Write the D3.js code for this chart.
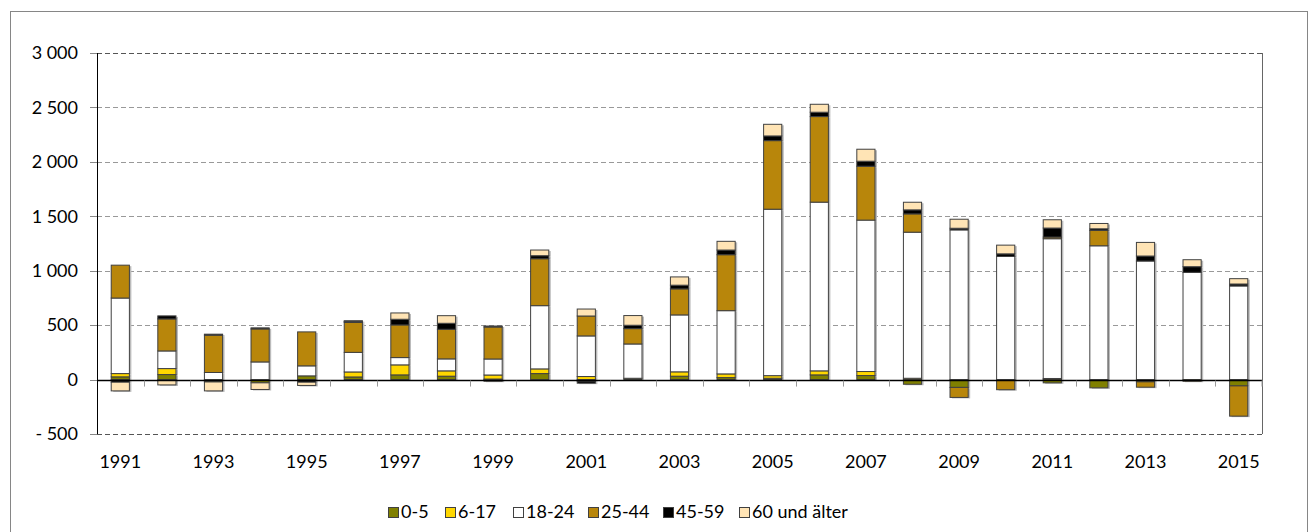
<!DOCTYPE html>
<meta charset="utf-8">
<style>
body { margin: 0; background: #fff; }
text { font-family: Lato, "Open Sans", sans-serif; fill: #000; }
</style>
<body>
<script src="https://cdn.jsdelivr.net/npm/d3@7"></script>
<script>

var width = 1311, height = 532;

// data
var years = d3.range(1991, 2016);
var groups = ["0-5", "6-17", "18-24", "25-44", "45-59", "60 und älter"];
var colors = ["#808000", "#ffd700", "#ffffff", "#b8860b", "#000000", "#ffe4b5"];

var age0_5   = [25, 46, -12, -30, 34, 24, 43, 31, 5, 55, -15, 12, 31, 18, 12, 43, 37, -43, -72, -5, -30, -76, -21, 0, -58];
var age6_17  = [30, 55, -10, 0, 0, 46, 92, 49, 37, 43, 28, 0, 40, 34, 24, 37, 37, 12, 0, 0, 10, 0, 0, 0, 0];
var age18_24 = [694, 162, 65, 162, 92, 180, 67, 110, 147, 581, 373, 315, 523, 581, 1529, 1550, 1391, 1342, 1375, 1131, 1284, 1229, 1089, 985, 860];
var age25_44 = [302, 294, 343, 303, 312, 275, 300, 272, 294, 431, 183, 141, 239, 514, 630, 786, 495, 168, -92, -88, 15, 141, -49, -15, -278];
var age45_59 = [-24, 28, 9, 10, -24, 8, 52, 55, 9, 28, -18, 31, 34, 43, 43, 40, 46, 37, 15, 24, 83, 15, 46, 52, 18];
var age60    = [-80, -49, -82, -61, -30, 8, 58, 70, -15, 52, 64, 89, 76, 80, 107, 73, 110, 70, 83, 80, 76, 49, 125, 64, 49];

var yTicks = [-500, 0, 500, 1000, 1500, 2000, 2500, 3000];

var series = [age0_5, age6_17, age18_24, age25_44, age45_59, age60];
var table = years.map(function(yr, i) {
  var row = {year: yr};
  groups.forEach(function(g, k) { row[g] = series[k][i]; });
  return row;
});

var stack = d3.stack().keys(groups).offset(d3.stackOffsetDiverging);
var layers = stack(table);

// plot area edges ("top" is taken by window.top)
var pLeft = 97, pRight = 1262, pTop = 53, pBottom = 434;

var x = d3.scaleBand().domain(years).range([pLeft, pRight]).paddingInner(0.61).paddingOuter(0.305);
var band = d3.scaleBand().domain(years).range([pLeft, pRight]);
var y = d3.scaleLinear().domain([-500, 3000]).range([pBottom, pTop]);

var svg = d3.select("body").append("svg")
    .attr("width", width)
    .attr("height", height);

// chart border
svg.append("rect")
    .attr("x", 10.5).attr("y", 11.5)
    .attr("width", 1297).attr("height", 540)
    .attr("fill", "none").attr("stroke", "#868686");

// gridlines
svg.append("g").selectAll("line")
    .data(yTicks.filter(function(d) { return d != 0; }))
  .enter().append("line")
    .attr("x1", pLeft).attr("x2", pRight)
    .attr("y1", function(d) { return Math.round(y(d)) + 0.5; })
    .attr("y2", function(d) { return Math.round(y(d)) + 0.5; })
    .attr("stroke", function(d) { return (d == 3000 || d == -500) ? "#555" : "#999"; })
    .attr("stroke-dasharray", "5,3");

// plot area right edge
svg.append("line")
    .attr("x1", pRight + 0.5).attr("x2", pRight + 0.5)
    .attr("y1", pTop).attr("y2", pBottom)
    .attr("stroke", "#666");

// bars with a faint shadow
var gBars = svg.append("g");
layers.forEach(function(layer, k) {
  gBars.selectAll(null)
    .data(layer.filter(function(d) { return d[1] != d[0]; }))
  .enter().append("rect")
    .attr("x", function(d) { return x(d.data.year) + 2; })
    .attr("y", function(d) { return y(d[1]) + 1; })
    .attr("width", x.bandwidth())
    .attr("height", function(d) { return y(d[0]) - y(d[1]); })
    .attr("fill", "#bbb");
});
layers.forEach(function(layer, k) {
  gBars.selectAll(null)
    .data(layer.filter(function(d) { return d[1] != d[0]; }))
  .enter().append("rect")
    .attr("x", function(d) { return x(d.data.year); })
    .attr("y", function(d) { return y(d[1]); })
    .attr("width", x.bandwidth())
    .attr("height", function(d) { return y(d[0]) - y(d[1]); })
    .attr("fill", colors[k])
    .attr("stroke", "#404040")
    .attr("stroke-width", 1);
});

// y axis
var fmt = function(d) {
  var s = d3.format(",")(Math.abs(d)).replace(/,/g, " ");
  return d < 0 ? "- " + s : s;
};
svg.append("line")
    .attr("x1", pLeft + 0.5).attr("x2", pLeft + 0.5)
    .attr("y1", pTop).attr("y2", pBottom)
    .attr("stroke", "#000");
svg.append("g").selectAll("line")
    .data(yTicks)
  .enter().append("line")
    .attr("x1", pLeft - 7).attr("x2", pLeft)
    .attr("y1", function(d) { return Math.round(y(d)) + 0.5; })
    .attr("y2", function(d) { return Math.round(y(d)) + 0.5; })
    .attr("stroke", "#888");
svg.append("g").selectAll("text")
    .data(yTicks)
  .enter().append("text")
    .attr("x", 78)
    .attr("y", function(d) { return y(d); })
    .attr("dy", "0.35em")
    .attr("text-anchor", "end")
    .style("font-size", "18px")
    .text(fmt);

// x axis at zero
svg.append("line")
    .attr("x1", pLeft).attr("x2", pRight)
    .attr("y1", Math.round(y(0)) + 0.5).attr("y2", Math.round(y(0)) + 0.5)
    .attr("stroke", "#000").attr("stroke-width", 1.5);
svg.append("g").selectAll("line")
    .data(years.slice(1).concat([null]))
  .enter().append("line")
    .attr("x1", function(d) { return d == null ? pRight : Math.round(band(d)) + 0.5; })
    .attr("x2", function(d) { return d == null ? pRight : Math.round(band(d)) + 0.5; })
    .attr("y1", y(0) + 1).attr("y2", y(0) + 7)
    .attr("stroke", "#999");
svg.append("g").selectAll("text")
    .data(years.filter(function(d) { return (d - 1991) % 2 == 0; }))
  .enter().append("text")
    .attr("x", function(d) { return band(d) + band.bandwidth() / 2; })
    .attr("y", 468)
    .attr("text-anchor", "middle")
    .style("font-size", "18px")
    .text(function(d) { return d; });

// legend
var legendX = [388, 445, 513, 588, 663, 739];
var legend = svg.selectAll("g.legend")
    .data(groups)
  .enter().append("g")
    .attr("class", "legend")
    .attr("transform", function(d, i) { return "translate(" + legendX[i] + ",507)"; });
legend.append("rect")
    .attr("x", 0.5).attr("y", 0.5)
    .attr("width", 10).attr("height", 10)
    .attr("fill", function(d, i) { return colors[i]; })
    .attr("stroke", "#404040");
legend.append("text")
    .attr("x", 13)
    .attr("y", 11)
    .style("font-size", "18px")
    .text(function(d) { return d; });

</script>
